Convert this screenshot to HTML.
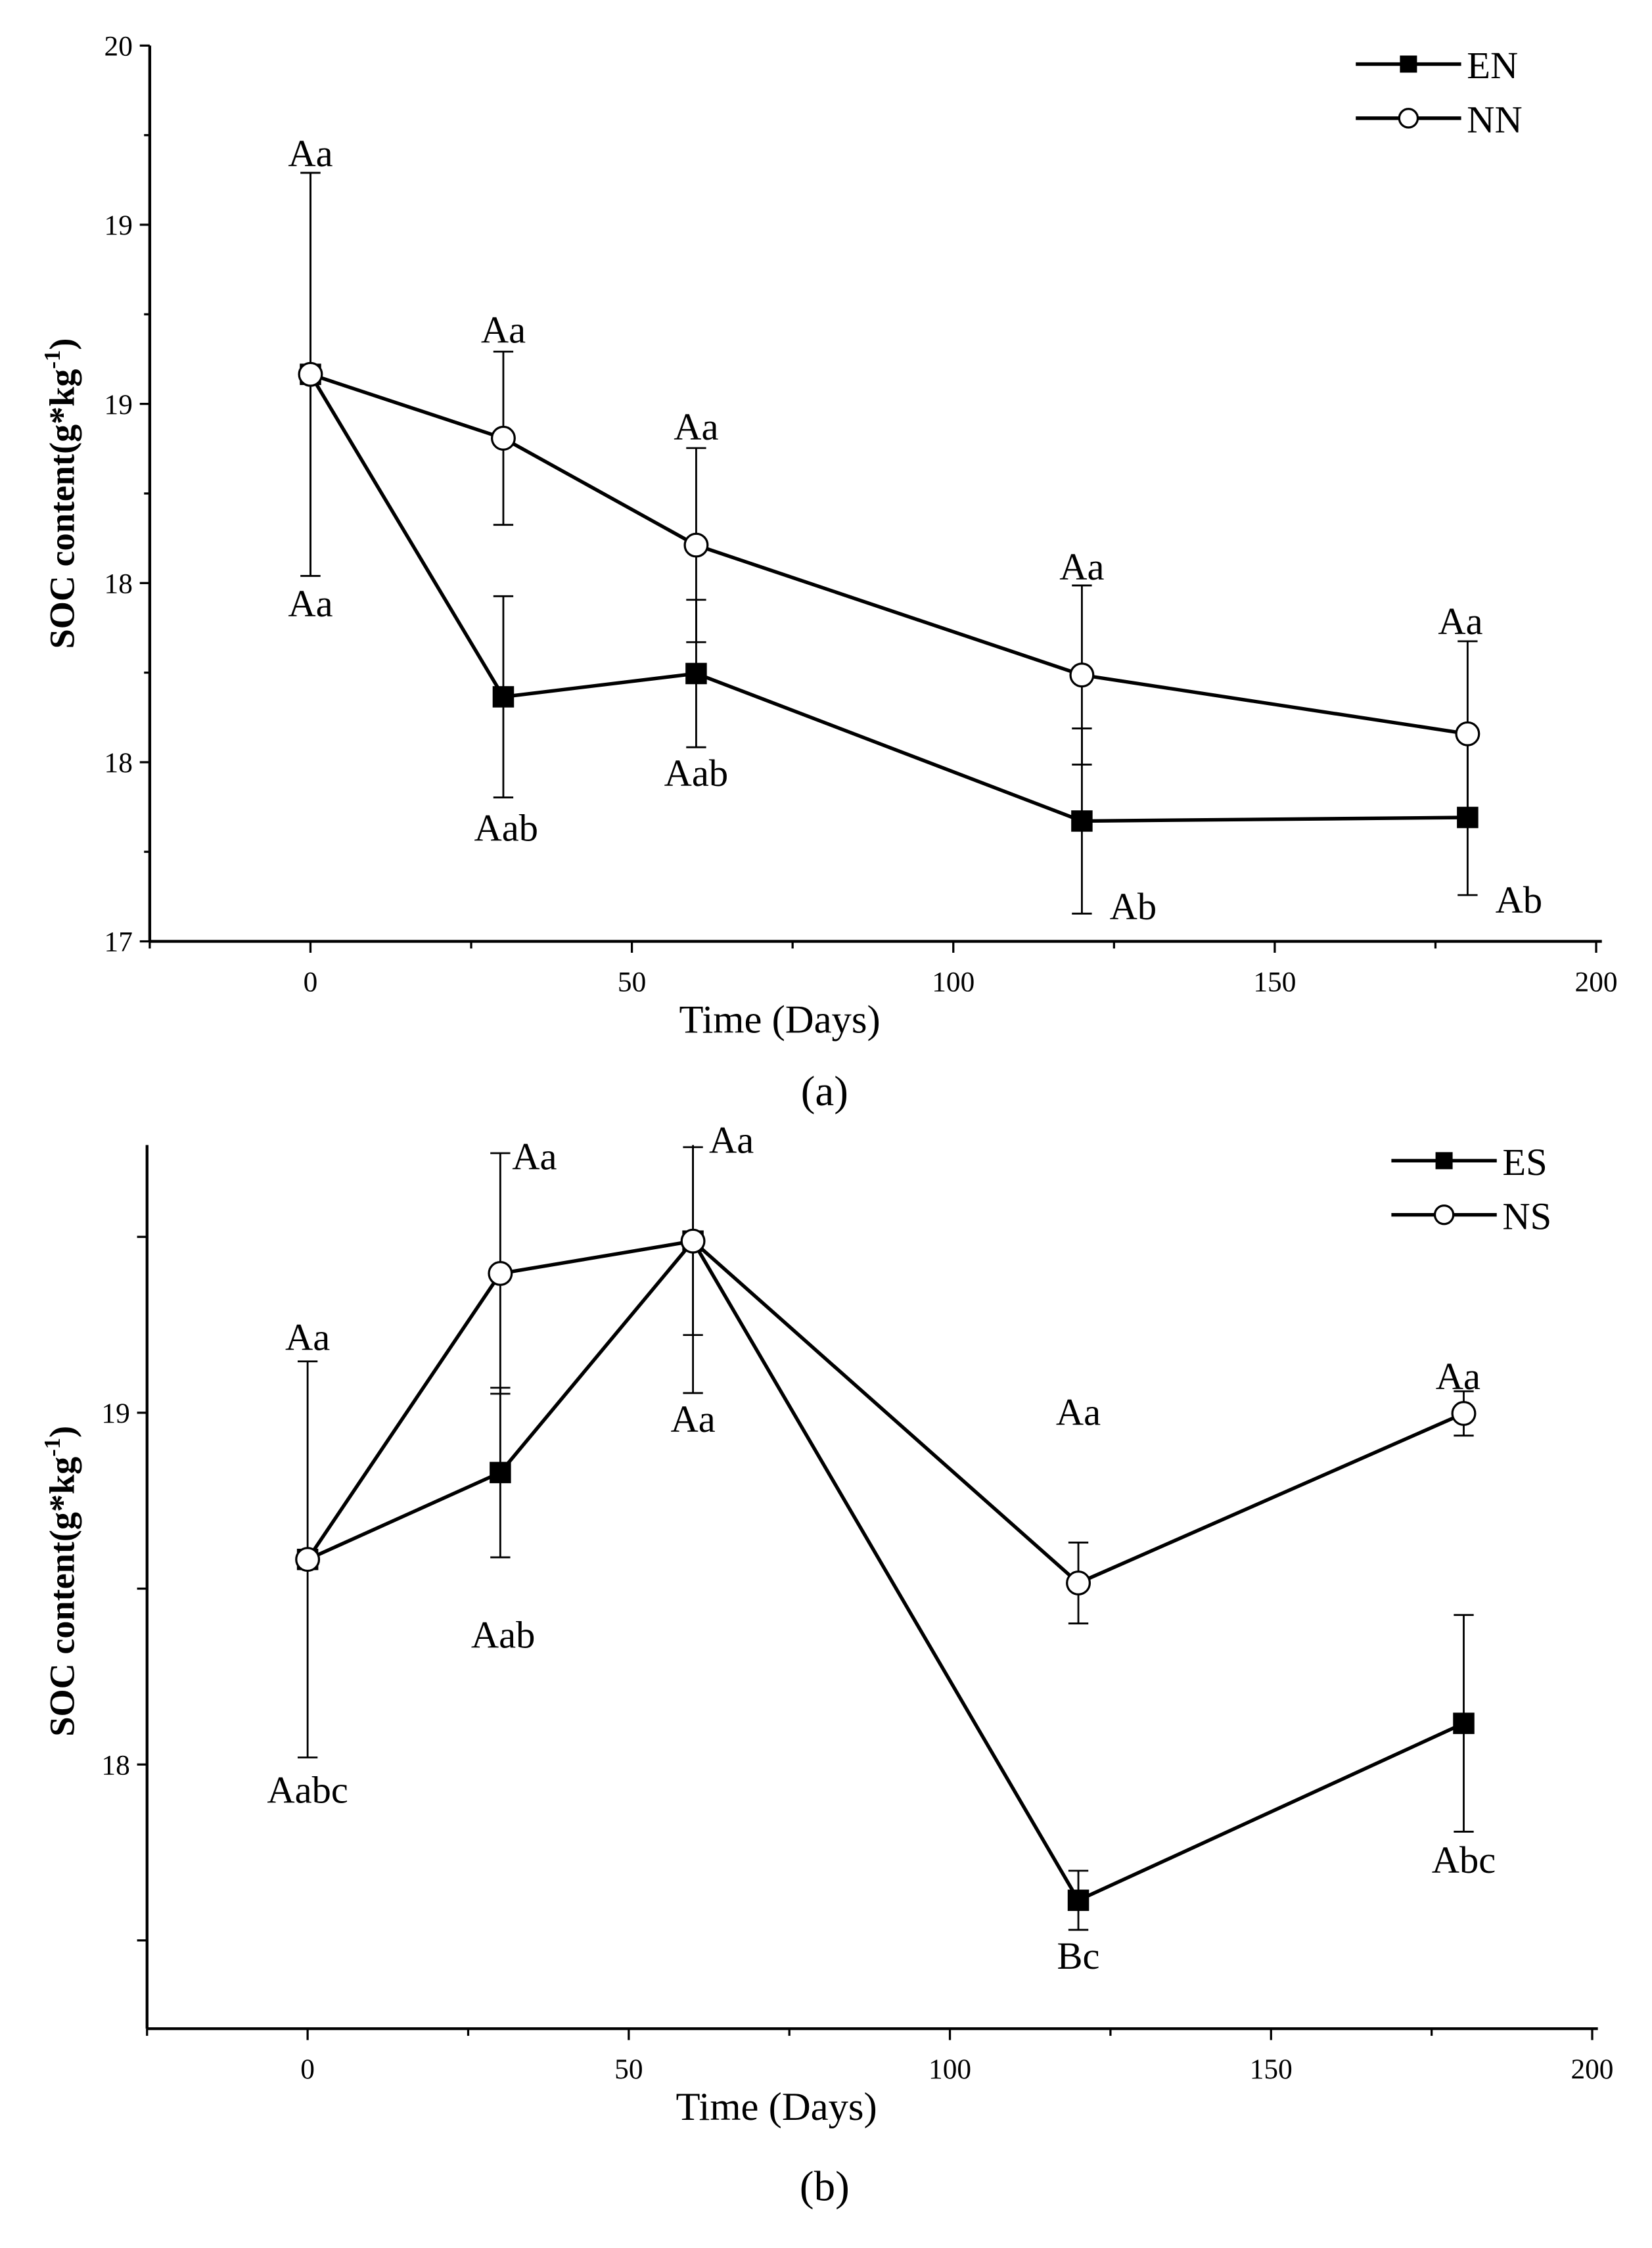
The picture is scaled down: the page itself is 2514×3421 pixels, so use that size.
<!DOCTYPE html>
<html><head><meta charset="utf-8"><style>
html,body{margin:0;padding:0;background:#fff}
svg{display:block}
text{font-family:"Liberation Serif",serif;fill:#000}
</style></head><body>
<svg id="chart" width="2514" height="3421" viewBox="0 0 1160 1578.5" xmlns="http://www.w3.org/2000/svg"></svg>
<script>
// ---- Panel (a) data ----
const daysA = [0, 30, 60, 120, 180];
const enValues = [18.899, 17.819, 17.897, 17.403, 17.415];
const enErr = [0.675, 0.337, 0.247, 0.31, 0.26];
const nnValues = [18.899, 18.685, 18.327, 17.892, 17.695];
const nnErr = [0.675, 0.29, 0.325, 0.30, 0.31];
const enLabels = ["Aa", "Aab", "Aab", "Ab", "Ab"];
const nnLabels = ["Aa", "Aa", "Aa", "Aa", "Aa"];
const yTicksA = [20, 19.4, 18.8, 18.2, 17.6, 17.0];
const yTickLabelsA = ["20", "19", "19", "18", "18", "17"];
// ---- Panel (b) data ----
const daysB = [0, 30, 60, 120, 180];
const esValues = [18.583, 18.830, 19.488, 17.614, 18.117];
const esErr = [0.0, 0.241, 0.432, 0.084, 0.308];
const nsValues = [18.583, 19.396, 19.488, 18.516, 18.998];
const nsErr = [0.563, 0.342, 0.267, 0.115, 0.063];
const esLabels = ["Aabc", "Aab", "Aa", "Bc", "Abc"];
const nsLabels = ["Aa", "Aa", "Aa", "Aa", "Aa"];
const yTicksB = [19.5, 19, 18.5, 18, 17.5];
const yTickLabelsB = ["", "19", "", "18", ""];
const xTicks = [0, 50, 100, 150, 200];

const NS = "http://www.w3.org/2000/svg";
const svg = document.getElementById('chart');
function mk(tag, attrs, parent) {
  const e = document.createElementNS(NS, tag);
  for (const k in attrs) e.setAttribute(k, attrs[k]);
  (parent || svg).appendChild(e);
  return e;
}

function panel(cfg) {
  const g = mk('g', {});
  
  
  const X = v => cfg.x0 + v * cfg.xs;
  const Y = v => cfg.yRef + (cfg.vRef - v) * cfg.ys;
  const left = X(-25), right = X(200) + 4, top = Y(cfg.yMax), bottom = Y(cfg.yMin);
  const clipId = cfg.name + '-clip';
  const cp = mk('clipPath', {id: clipId}, g);
  mk('rect', {x: left - 20, y: top, width: right - left + 40, height: bottom - top}, cp);
  const ax = mk('g', {stroke: '#000', 'stroke-width': 2}, g);
  
  
  mk('line', {x1: left, y1: top, x2: left, y2: bottom}, ax);
  mk('line', {x1: left, y1: bottom, x2: right, y2: bottom}, ax);
  for (let v = -25; v <= 200; v += 25) {
    const major = v % 50 === 0;
    mk('line', {x1: X(v), y1: bottom, x2: X(v), y2: bottom + (major ? 8 : 5), 'stroke-width': 1.5}, ax);
  }
  xTicks.forEach(v => {
    const t = mk('text', {x: X(v), y: bottom + 35, 'font-size': 20, 'text-anchor': 'middle'}, g);
    t.textContent = v;
    
    
  });
  cfg.yTicks.forEach((v, i) => {
    mk('line', {x1: left, y1: Y(v), x2: left - 7, y2: Y(v), 'stroke-width': 1.5}, ax);
    if (cfg.minor) mk('line', {x1: left, y1: Y(v + cfg.minor), x2: left - 4, y2: Y(v + cfg.minor), 'stroke-width': 1.5}, ax);
    if (cfg.yLabels[i]) {
      const t = mk('text', {x: left - 12, y: Y(v) + 7, 'font-size': 20, 'text-anchor': 'end'}, g);
      t.textContent = cfg.yLabels[i];
      
      
    }
  });
  const xt = mk('text', {x: X(73), y: bottom + 64, 'font-size': 28, 'text-anchor': 'middle'}, g);
  xt.textContent = 'Time (Days)';
  
  
  const yc = (top + bottom) / 2 + cfg.yTitleShift;
  const yt = mk('text', {x: 0, y: 0, 'font-size': 25, 'font-weight': 'bold', 'text-anchor': 'middle', transform: `translate(52,${yc}) rotate(-90)`}, g);
  yt.innerHTML = 'SOC content(g*kg<tspan dy="-10" font-size="16">-1</tspan><tspan dy="10">)</tspan>';
  
  
  const cap = mk('text', {x: 579, y: cfg.captionY, 'font-size': 30, 'text-anchor': 'middle'}, g);
  cap.textContent = cfg.caption;
  
  

  const plot = mk('g', {'clip-path': `url(#${clipId})`}, g);
  cfg.series.forEach(s => {
    const sg = mk('g', {}, plot);
    
    
    cfg.days.forEach((d, i) => {
      if (!s.err[i]) return;
      const x = X(d), y1 = Y(s.vals[i] + s.err[i]), y2 = Y(s.vals[i] - s.err[i]);
      const eb = mk('path', {d: `M${x},${y1}V${y2}M${x - 7},${y1}H${x + 7}M${x - 7},${y2}H${x + 7}`, stroke: '#000', 'stroke-width': 1.3, fill: 'none'}, sg);
      
      
    });
  });
  cfg.series.forEach(s => {
    const sg = mk('g', {}, plot);
    
    
    const pts = cfg.days.map((d, i) => X(d) + ',' + Y(s.vals[i])).join(' ');
    mk('polyline', {points: pts, fill: 'none', stroke: '#000', 'stroke-width': 2.5}, sg);
  });
  cfg.series.forEach(s => {
    cfg.days.forEach((d, i) => {
      const x = X(d), y = Y(s.vals[i]);
      let m;
      if (s.marker === 'square') m = mk('rect', {x: x - 7.5, y: y - 7.5, width: 15, height: 15, fill: '#000'}, plot);
      else m = mk('circle', {cx: x, cy: y, r: 8, fill: '#fff', stroke: '#000', 'stroke-width': 1.5}, plot);
      
      
    });
  });
  cfg.series.forEach(s => {
    cfg.days.forEach((d, i) => {
      const off = s.labelOffsets[i];
      const t = mk('text', {x: X(d) + off[0], y: Y(s.vals[i]) + off[1], 'font-size': 27, 'text-anchor': off[2] || 'middle'}, g);
      t.textContent = s.labels[i];
      
      
    });
  });
  const lg = mk('g', {}, g);
  
  
  cfg.series.forEach((s, i) => {
    const ly = cfg.legendY + i * 38;
    const e = mk('g', {}, lg);
    
    
    mk('line', {x1: cfg.legendX, y1: ly, x2: cfg.legendX + 74, y2: ly, stroke: '#000', 'stroke-width': 2.5}, e);
    if (s.marker === 'square') mk('rect', {x: cfg.legendX + 31, y: ly - 6, width: 12, height: 12, fill: '#000'}, e);
    else mk('circle', {cx: cfg.legendX + 37, cy: ly, r: 6.5, fill: '#fff', stroke: '#000', 'stroke-width': 1.5}, e);
    const t = mk('text', {x: cfg.legendX + 78, y: ly + 10, 'font-size': 27}, e);
    t.textContent = s.name;
  });
}

panel({
  name: 'panel-a', days: daysA, x0: 218, xs: 4.514, yRef: 32, vRef: 20, ys: 209.67,
  yMax: 20, yMin: 17, yTicks: yTicksA, yLabels: yTickLabelsA, minor: 0.3, yTitleShift: 0,
  caption: '(a)', captionY: 776, legendX: 952, legendY: 45,
  series: [
    {name: 'EN', vals: enValues, err: enErr, marker: 'square', labels: enLabels,
     labelOffsets: [[0, 170], [2, 101], [0, 79], [36, 69, 'middle'], [36, 67, 'middle']]},
    {name: 'NN', vals: nnValues, err: nnErr, marker: 'circle', labels: nnLabels,
     labelOffsets: [[0, -146], [0, -67], [0, -74], [0, -67], [-5, -70]]}
  ]
});
panel({
  name: 'panel-b', days: daysB, x0: 216, xs: 4.51, yRef: 992, vRef: 19, ys: 247,
  yMax: 19.761, yMin: 17.249, yTicks: yTicksB, yLabels: yTickLabelsB, minor: 0, yTitleShift: -4,
  caption: '(b)', captionY: 1545, legendX: 977, legendY: 815,
  series: [
    {name: 'ES', vals: esValues, err: esErr, marker: 'square', labels: esLabels,
     labelOffsets: [[0, 171], [2, 123], [0, 134], [0, 48], [0, 105]]},
    {name: 'NS', vals: nsValues, err: nsErr, marker: 'circle', labels: nsLabels,
     labelOffsets: [[0, -147], [24, -73], [27, -62], [0, -111], [-4, -17]]}
  ]
});
</script>
</body></html>
